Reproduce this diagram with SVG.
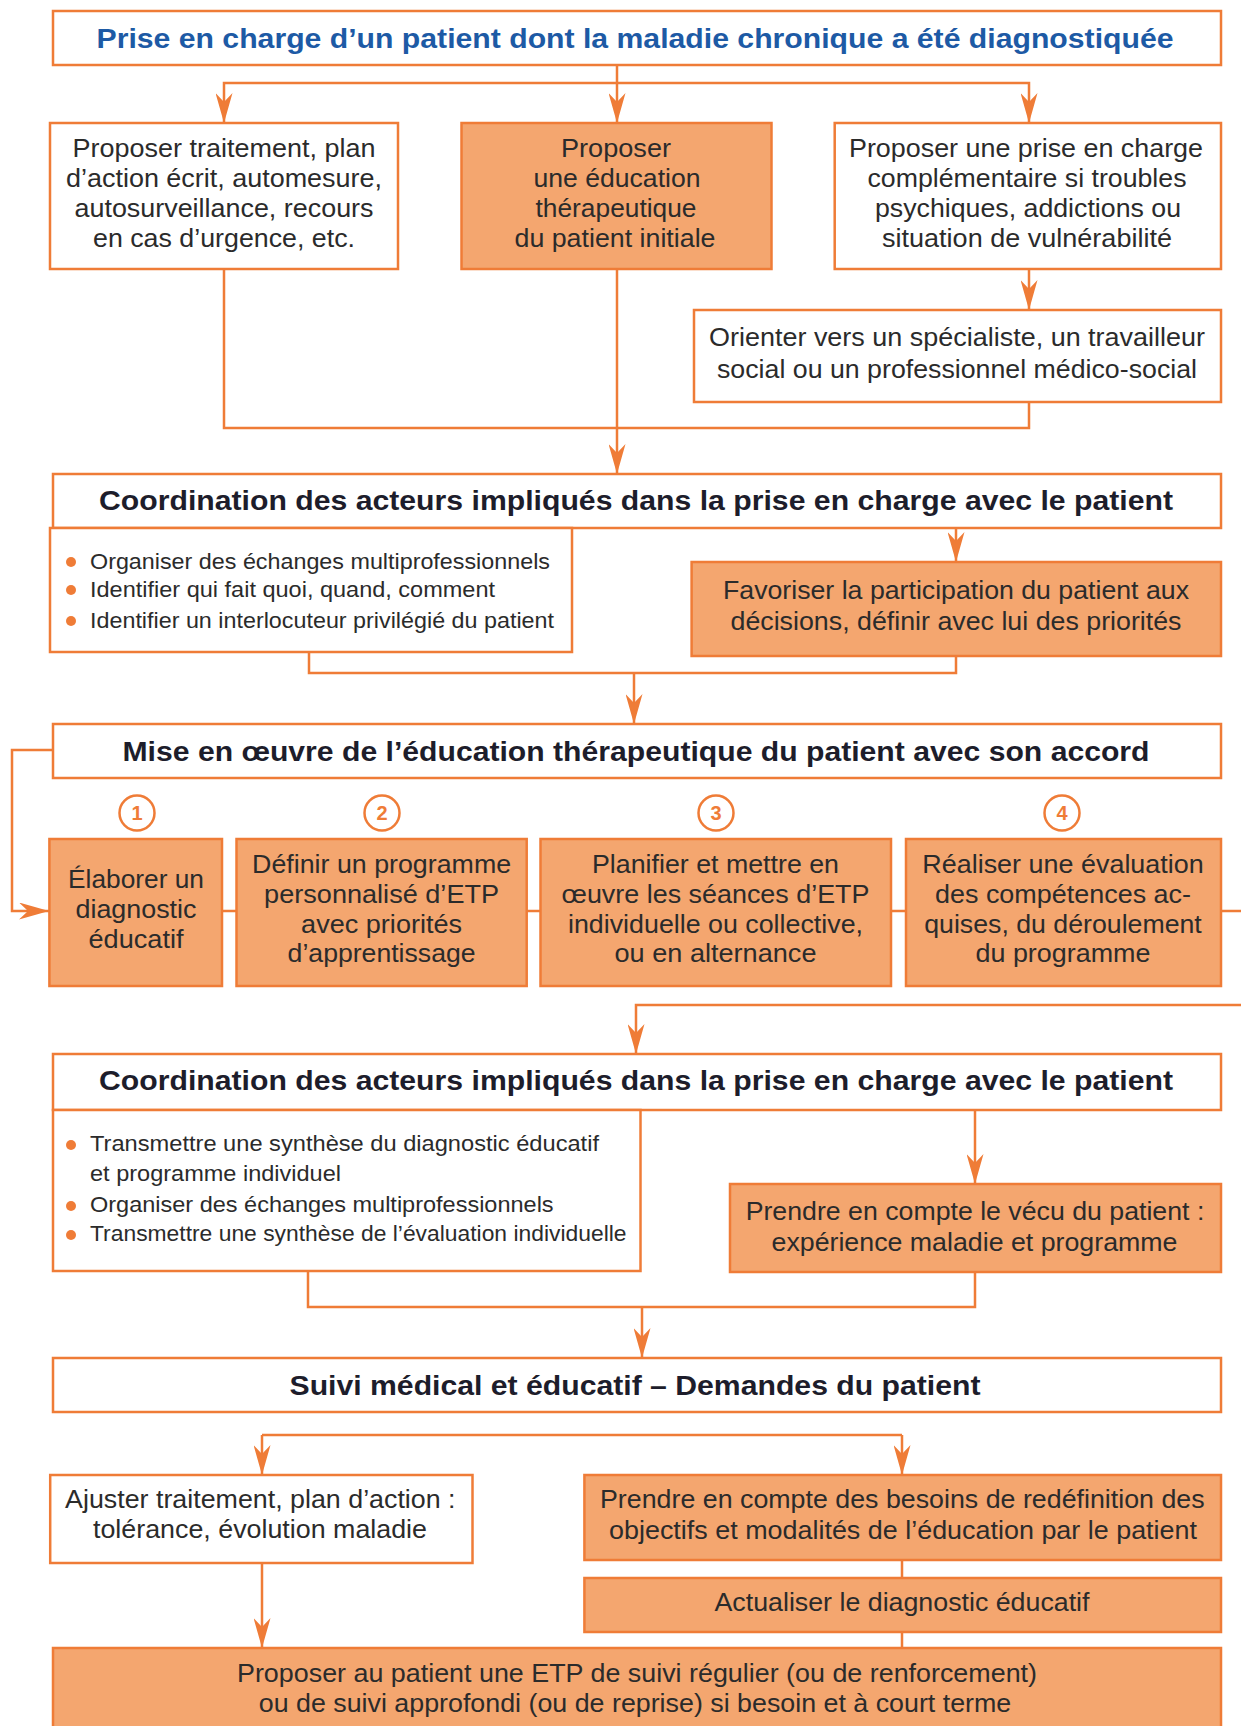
<svg xmlns="http://www.w3.org/2000/svg" width="1241" height="1726" viewBox="0 0 1241 1726">
<style>
.b{fill:#ffffff;stroke:#ef7c37;stroke-width:2.5}
.o{fill:#f4a66f;stroke:#ef7c37;stroke-width:2.5}
.c{fill:none;stroke:#ef7c37;stroke-width:2.5}
.t{font-family:"Liberation Sans",Arial,sans-serif;font-size:25px;fill:#2b2b2b;text-anchor:middle}
.h{font-family:"Liberation Sans",Arial,sans-serif;font-size:27px;font-weight:bold;fill:#1d1d2b;text-anchor:middle}
.ti{fill:#1d5aa5}
.bl{font-family:"Liberation Sans",Arial,sans-serif;font-size:21.5px;fill:#2b2b2b;text-anchor:start}
.dot{fill:#ef7c37}
.nc{fill:#ffffff;stroke:#ef7c37;stroke-width:2.5}
.nt{font-family:"Liberation Sans",Arial,sans-serif;font-size:20px;font-weight:bold;fill:#ef7c37;text-anchor:middle}
</style>
<defs>
<marker id="arr" viewBox="0 0 30 17" markerUnits="userSpaceOnUse" markerWidth="30" markerHeight="17" refX="30" refY="8.5" orient="auto">
<path d="M0,0 L30,8.5 L0,17 L9,8.5 Z" fill="#ef7c37"/>
</marker>
</defs>
<rect width="1241" height="1726" fill="#ffffff"/>

<g id="connectors">
<path class="c" d="M617,65 V123" marker-end="url(#arr)"/>
<path class="c" d="M617,83 H224 V123" marker-end="url(#arr)"/>
<path class="c" d="M617,83 H1029 V123" marker-end="url(#arr)"/>
<path class="c" d="M1029,269 V310" marker-end="url(#arr)"/>
<path class="c" d="M224,269 V428 H1029 V402"/>
<path class="c" d="M617,269 V474" marker-end="url(#arr)"/>
<path class="c" d="M956,528 V562" marker-end="url(#arr)"/>
<path class="c" d="M309,652 V673 H956 V656"/>
<path class="c" d="M634,673 V724" marker-end="url(#arr)"/>
<path class="c" d="M53,750 H12 V911 H49" marker-end="url(#arr)"/>
<path class="c" d="M222,911 H236.5 M526.7,911 H540.5 M891,911 H906 M1221,911 H1241"/>
<path class="c" d="M1241,1005 H636 V1054" marker-end="url(#arr)"/>
<path class="c" d="M975,1110 V1184" marker-end="url(#arr)"/>
<path class="c" d="M308,1271 V1307 H975 V1272"/>
<path class="c" d="M642,1307 V1358" marker-end="url(#arr)"/>
<path class="c" d="M262,1435 H902"/>
<path class="c" d="M262,1435 V1475" marker-end="url(#arr)"/>
<path class="c" d="M902,1435 V1475" marker-end="url(#arr)"/>
<path class="c" d="M262,1563 V1648" marker-end="url(#arr)"/>
<path class="c" d="M902,1560 V1578 M902,1632 V1648"/>
</g>

<g id="n-top">
<rect class="b" x="53" y="11" width="1168" height="54"/>
<text class="h ti" x="635" y="48" textLength="1077" lengthAdjust="spacingAndGlyphs">Prise en charge d’un patient dont la maladie chronique a été diagnostiquée</text>
</g>

<g id="n-traitement">
<rect class="b" x="50" y="123" width="348" height="146"/>
<text class="t" x="224" y="157" textLength="303" lengthAdjust="spacingAndGlyphs">Proposer traitement, plan</text>
<text class="t" x="224" y="187" textLength="316" lengthAdjust="spacingAndGlyphs">d’action écrit, automesure,</text>
<text class="t" x="224" y="217" textLength="299" lengthAdjust="spacingAndGlyphs">autosurveillance, recours</text>
<text class="t" x="224" y="247" textLength="262" lengthAdjust="spacingAndGlyphs">en cas d’urgence, etc.</text>
</g>

<g id="n-etp-initiale">
<rect class="o" x="461.5" y="123" width="310" height="146"/>
<text class="t" x="616" y="157" textLength="110" lengthAdjust="spacingAndGlyphs">Proposer</text>
<text class="t" x="617" y="187" textLength="167" lengthAdjust="spacingAndGlyphs">une éducation</text>
<text class="t" x="616" y="217" textLength="161" lengthAdjust="spacingAndGlyphs">thérapeutique</text>
<text class="t" x="615" y="247" textLength="201" lengthAdjust="spacingAndGlyphs">du patient initiale</text>
</g>

<g id="n-complementaire">
<rect class="b" x="834.7" y="123" width="386.3" height="146"/>
<text class="t" x="1026" y="157" textLength="354" lengthAdjust="spacingAndGlyphs">Proposer une prise en charge</text>
<text class="t" x="1027" y="187" textLength="319" lengthAdjust="spacingAndGlyphs">complémentaire si troubles</text>
<text class="t" x="1028" y="217" textLength="306" lengthAdjust="spacingAndGlyphs">psychiques, addictions ou</text>
<text class="t" x="1027" y="247" textLength="290" lengthAdjust="spacingAndGlyphs">situation de vulnérabilité</text>
</g>

<g id="n-orienter">
<rect class="b" x="694" y="310" width="527" height="92"/>
<text class="t" x="957" y="346" textLength="496" lengthAdjust="spacingAndGlyphs">Orienter vers un spécialiste, un travailleur</text>
<text class="t" x="957" y="378" textLength="480" lengthAdjust="spacingAndGlyphs">social ou un professionnel médico-social</text>
</g>

<g id="n-coord1">
<rect class="b" x="53" y="474" width="1168" height="54"/>
<text class="h" x="636" y="510" textLength="1074" lengthAdjust="spacingAndGlyphs">Coordination des acteurs impliqués dans la prise en charge avec le patient</text>
<rect class="b" x="50" y="528" width="522" height="124"/>
<circle class="dot" cx="71" cy="562" r="5"/>
<circle class="dot" cx="71" cy="590" r="5"/>
<circle class="dot" cx="71" cy="621" r="5"/>
<text class="bl" x="90" y="569" textLength="460" lengthAdjust="spacingAndGlyphs">Organiser des échanges multiprofessionnels</text>
<text class="bl" x="90" y="597" textLength="405" lengthAdjust="spacingAndGlyphs">Identifier qui fait quoi, quand, comment</text>
<text class="bl" x="90" y="628" textLength="464" lengthAdjust="spacingAndGlyphs">Identifier un interlocuteur privilégié du patient</text>
</g>

<g id="n-favoriser">
<rect class="o" x="691.6" y="562" width="529.4" height="94"/>
<text class="t" x="956" y="599" textLength="466" lengthAdjust="spacingAndGlyphs">Favoriser la participation du patient aux</text>
<text class="t" x="956" y="630" textLength="451" lengthAdjust="spacingAndGlyphs">décisions, définir avec lui des priorités</text>
</g>

<g id="n-mise">
<rect class="b" x="53" y="724" width="1168" height="54"/>
<text class="h" x="636" y="761" textLength="1027" lengthAdjust="spacingAndGlyphs">Mise en œuvre de l’éducation thérapeutique du patient avec son accord</text>
</g>

<g id="n-step1">
<circle class="nc" cx="137" cy="813" r="17.5"/>
<text class="nt" x="137" y="820">1</text>
<rect class="o" x="49.4" y="839" width="172.6" height="147"/>
<text class="t" x="136" y="888" textLength="136" lengthAdjust="spacingAndGlyphs">Élaborer un</text>
<text class="t" x="136" y="918" textLength="121" lengthAdjust="spacingAndGlyphs">diagnostic</text>
<text class="t" x="136" y="948" textLength="95" lengthAdjust="spacingAndGlyphs">éducatif</text>
</g>

<g id="n-step2">
<circle class="nc" cx="382" cy="813" r="17.5"/>
<text class="nt" x="382" y="820">2</text>
<rect class="o" x="236.5" y="839" width="290.2" height="147"/>
<text class="t" x="381.6" y="873" textLength="259" lengthAdjust="spacingAndGlyphs">Définir un programme</text>
<text class="t" x="381.6" y="903" textLength="235" lengthAdjust="spacingAndGlyphs">personnalisé d’ETP</text>
<text class="t" x="381.6" y="933" textLength="161" lengthAdjust="spacingAndGlyphs">avec priorités</text>
<text class="t" x="381.6" y="962" textLength="188" lengthAdjust="spacingAndGlyphs">d’apprentissage</text>
</g>

<g id="n-step3">
<circle class="nc" cx="716" cy="813" r="17.5"/>
<text class="nt" x="716" y="820">3</text>
<rect class="o" x="540.5" y="839" width="350.5" height="147"/>
<text class="t" x="715.5" y="873" textLength="247" lengthAdjust="spacingAndGlyphs">Planifier et mettre en</text>
<text class="t" x="715.5" y="903" textLength="308" lengthAdjust="spacingAndGlyphs">œuvre les séances d’ETP</text>
<text class="t" x="715.5" y="933" textLength="295" lengthAdjust="spacingAndGlyphs">individuelle ou collective,</text>
<text class="t" x="715.5" y="962" textLength="202" lengthAdjust="spacingAndGlyphs">ou en alternance</text>
</g>

<g id="n-step4">
<circle class="nc" cx="1062" cy="813" r="17.5"/>
<text class="nt" x="1062" y="820">4</text>
<rect class="o" x="906" y="839" width="315" height="147"/>
<text class="t" x="1063" y="873" textLength="281.5" lengthAdjust="spacingAndGlyphs">Réaliser une évaluation</text>
<text class="t" x="1063" y="903" textLength="256" lengthAdjust="spacingAndGlyphs">des compétences ac-</text>
<text class="t" x="1063" y="933" textLength="277.6" lengthAdjust="spacingAndGlyphs">quises, du déroulement</text>
<text class="t" x="1063" y="962" textLength="175" lengthAdjust="spacingAndGlyphs">du programme</text>
</g>

<g id="n-coord2">
<rect class="b" x="53" y="1054" width="1168" height="56"/>
<text class="h" x="636" y="1090" textLength="1074" lengthAdjust="spacingAndGlyphs">Coordination des acteurs impliqués dans la prise en charge avec le patient</text>
<rect class="b" x="53" y="1110" width="587.5" height="161"/>
<circle class="dot" cx="71" cy="1145" r="5"/>
<circle class="dot" cx="71" cy="1206" r="5"/>
<circle class="dot" cx="71" cy="1235" r="5"/>
<text class="bl" x="90" y="1151" textLength="509" lengthAdjust="spacingAndGlyphs">Transmettre une synthèse du diagnostic éducatif</text>
<text class="bl" x="90" y="1181" textLength="251" lengthAdjust="spacingAndGlyphs">et programme individuel</text>
<text class="bl" x="90" y="1212" textLength="463.6" lengthAdjust="spacingAndGlyphs">Organiser des échanges multiprofessionnels</text>
<text class="bl" x="90" y="1241" textLength="536.5" lengthAdjust="spacingAndGlyphs">Transmettre une synthèse de l’évaluation individuelle</text>
</g>

<g id="n-vecu">
<rect class="o" x="730" y="1184" width="491" height="88"/>
<text class="t" x="975" y="1220" textLength="458.7" lengthAdjust="spacingAndGlyphs">Prendre en compte le vécu du patient :</text>
<text class="t" x="974.5" y="1251" textLength="406" lengthAdjust="spacingAndGlyphs">expérience maladie et programme</text>
</g>

<g id="n-suivi">
<rect class="b" x="53" y="1358" width="1168" height="54"/>
<text class="h" x="635" y="1395" textLength="691" lengthAdjust="spacingAndGlyphs">Suivi médical et éducatif – Demandes du patient</text>
</g>

<g id="n-ajuster">
<rect class="b" x="50.2" y="1475" width="422.3" height="88"/>
<text class="t" x="260.3" y="1508" textLength="390.5" lengthAdjust="spacingAndGlyphs">Ajuster traitement, plan d’action :</text>
<text class="t" x="260" y="1538" textLength="334" lengthAdjust="spacingAndGlyphs">tolérance, évolution maladie</text>
</g>

<g id="n-besoins">
<rect class="o" x="584.4" y="1475" width="636.6" height="85"/>
<text class="t" x="902.3" y="1508" textLength="604.6" lengthAdjust="spacingAndGlyphs">Prendre en compte des besoins de redéfinition des</text>
<text class="t" x="903" y="1539" textLength="588" lengthAdjust="spacingAndGlyphs">objectifs et modalités de l’éducation par le patient</text>
</g>

<g id="n-actualiser">
<rect class="o" x="584.4" y="1578" width="636.6" height="54"/>
<text class="t" x="902" y="1611" textLength="375" lengthAdjust="spacingAndGlyphs">Actualiser le diagnostic éducatif</text>
</g>

<g id="n-final">
<rect class="o" x="53" y="1648" width="1168" height="90"/>
<text class="t" x="637" y="1682" textLength="800" lengthAdjust="spacingAndGlyphs">Proposer au patient une ETP de suivi régulier (ou de renforcement)</text>
<text class="t" x="635" y="1712" textLength="752.5" lengthAdjust="spacingAndGlyphs">ou de suivi approfondi (ou de reprise) si besoin et à court terme</text>
</g>
</svg>
